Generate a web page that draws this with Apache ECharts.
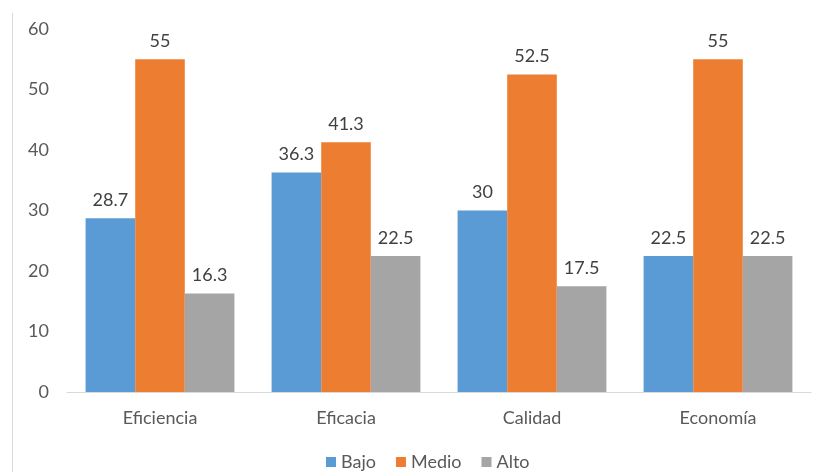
<!DOCTYPE html>
<html><head><meta charset="utf-8">
<script src="https://cdn.jsdelivr.net/npm/echarts@6/dist/echarts.min.js"></script>
<style>html,body{margin:0;padding:0;background:#fff}#c{width:823px;height:472px}</style>
</head><body><div id="c"></div>
<script>
const categories = ["Eficiencia", "Eficacia", "Calidad", "Economía"];
const bajo = [28.7, 36.3, 30, 22.5];
const medio = [55, 41.3, 52.5, 55];
const alto = [16.3, 22.5, 17.5, 22.5];
const seriesNames = ["Bajo", "Medio", "Alto"];
const colors = ["#5B9BD5", "#ED7D31", "#A5A5A5"];
const font = "Lato, 'Open Sans', sans-serif";

const chart = echarts.init(document.getElementById('c'));
const mk = (name, data, color) => ({
  name, type: 'bar', data, barGap: '0%', barCategoryGap: '20%',
  itemStyle: { color },
  label: { show: true, position: 'top', distance: 9, color: '#404040', fontSize: 18, fontFamily: font }
});
chart.setOption({
  animation: false,
  color: colors,
  grid: { left: 67, right: 12, top: 29, bottom: 80 },
  graphic: [{ type: 'line', shape: { x1: 12.5, y1: 13, x2: 12.5, y2: 472 }, style: { stroke: '#D9D9D9', lineWidth: 1 } }],
  legend: {
    data: seriesNames, left: 321, top: 448, padding: 5, itemWidth: 10, itemHeight: 10, itemGap: 20,
    icon: 'rect', textStyle: { color: '#595959', fontSize: 18, fontFamily: font }
  },
  xAxis: {
    type: 'category', data: categories,
    axisLine: { lineStyle: { color: '#D9D9D9' } }, axisTick: { show: false },
    axisLabel: { color: '#595959', fontSize: 18, fontFamily: font, margin: 17 }
  },
  yAxis: {
    type: 'value', min: 0, max: 60, interval: 10,
    splitLine: { show: false }, axisLine: { show: false }, axisTick: { show: false },
    axisLabel: { color: '#595959', fontSize: 18, fontFamily: font, margin: 18 }
  },
  series: [mk(seriesNames[0], bajo, colors[0]), mk(seriesNames[1], medio, colors[1]), mk(seriesNames[2], alto, colors[2])]
});
</script></body></html>
